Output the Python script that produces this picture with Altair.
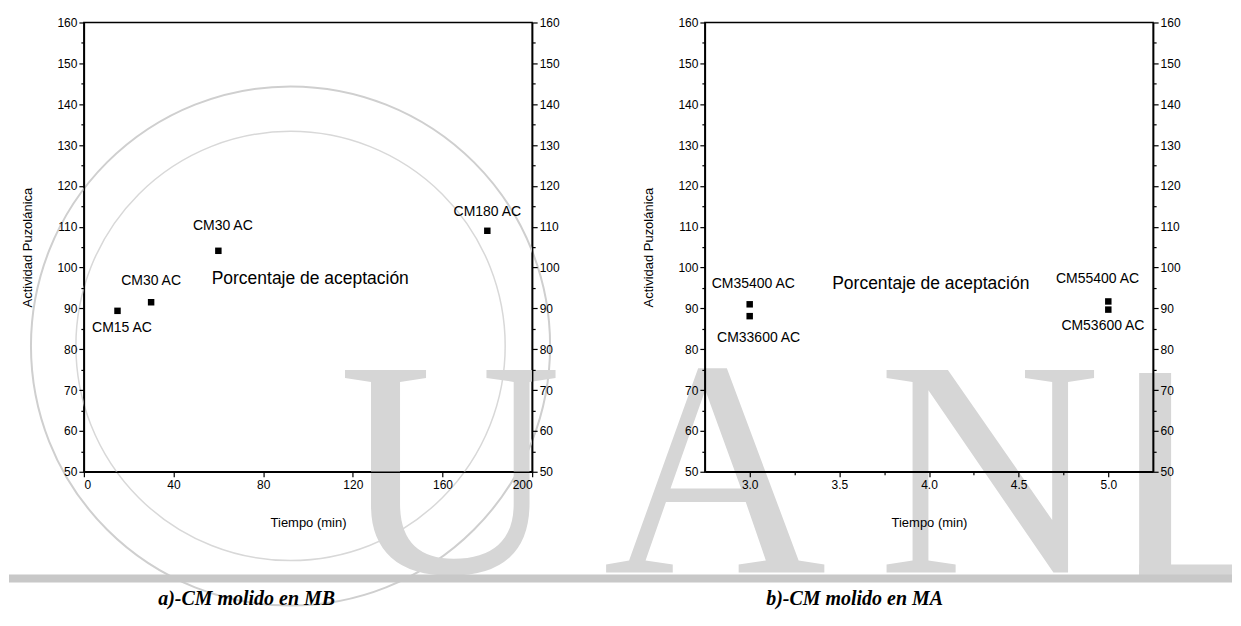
import altair as alt
import pandas as pd

# a)-CM molido en MB
tiempo_a = [15, 30, 60, 180]
actividad_a = [89.4, 91.5, 104.1, 109.0]
etiquetas_a = ["CM15 AC", "CM30 AC", "CM30 AC", "CM180 AC"]
etiq_x_a = [17, 30, 62, 180]
etiq_y_a = [85.3, 96.6, 110.1, 113.7]

# b)-CM molido en MA
tiempo_b = [3.0, 3.0, 5.0, 5.0]
actividad_b = [91.0, 88.1, 91.7, 89.7]
etiquetas_b = ["CM35400 AC", "CM33600 AC", "CM55400 AC", "CM53600 AC"]
etiq_x_b = [3.02, 3.05, 4.94, 4.97]
etiq_y_b = [95.9, 82.8, 97.2, 85.6]

nota = "Porcentaje de aceptación"
nota_x = [101, 4.01]
nota_y = [97.1, 96.0]

pies = ["a)-CM molido en MB", "b)-CM molido en MA"]

y_ticks = list(range(50, 161, 5))
x_ticks_a = [0, 40, 80, 120, 160, 200]
x_ticks_b = [3.0, 3.25, 3.5, 3.75, 4.0, 4.25, 4.5, 4.75, 5.0]

FONT = "Liberation Sans"
major = "datum.value % 10 === 0"


def y_axis(orient, title):
    return alt.Axis(orient=orient, title=title, values=y_ticks, zindex=1,
                    labelExpr=f"{major} ? datum.label : ''",
                    tickSize={"condition": {"test": major, "value": 5}, "value": 3},
                    labelPadding=2, titlePadding=22)


def panel(pts, labs, note, x_scale, x_axis, extra=None):
    ys = alt.Scale(domain=[50, 160], nice=False, zero=False)
    puntos = alt.Chart(pts).mark_square(size=42, color="black", opacity=1).encode(
        x=alt.X("t:Q", scale=x_scale, axis=x_axis),
        y=alt.Y("a:Q", scale=ys, axis=y_axis("left", "Actividad Puzolánica")),
    )
    textos = alt.Chart(labs).mark_text(font=FONT, fontSize=14, color="black").encode(
        x=alt.X("x:Q", scale=x_scale),
        y=alt.Y("y:Q", scale=ys, axis=y_axis("right", "")),
        text="label:N",
    )
    texto_nota = alt.Chart(note).mark_text(font=FONT, fontSize=17.5, color="black").encode(
        x=alt.X("x:Q", scale=x_scale),
        y=alt.Y("y:Q", scale=ys, axis=None),
        text="label:N",
    )
    layers = ([] if extra is None else extra) + [puntos, textos, texto_nota]
    return alt.layer(*layers).resolve_axis(y="independent").properties(width=449, height=450)


pts_a = pd.DataFrame({"t": tiempo_a, "a": actividad_a})
labs_a = pd.DataFrame({"x": etiq_x_a, "y": etiq_y_a, "label": etiquetas_a})
note_a = pd.DataFrame({"x": [nota_x[0]], "y": [nota_y[0]], "label": [nota]})
pts_b = pd.DataFrame({"t": tiempo_b, "a": actividad_b})
labs_b = pd.DataFrame({"x": etiq_x_b, "y": etiq_y_b, "label": etiquetas_b})
note_b = pd.DataFrame({"x": [nota_x[1]], "y": [nota_y[1]], "label": [nota]})

# page decoration of the scanned document (watermark, rule, captions), behind the plots
fondo = pd.DataFrame({"k": [0]})
GRIS = "#d6d6d6"


def letra(ch, x):
    return alt.Chart(fondo).mark_text(font="Liberation Serif", fontSize=310, color=GRIS,
                                      align="center", baseline="alphabetic").encode(
        x=alt.value(x), y=alt.value(551), text=alt.value(ch))


def bloque(x, x2, y, y2, color=GRIS):
    return alt.Chart(fondo).mark_rect(color=color).encode(
        x=alt.value(x), x2=alt.value(x2), y=alt.value(y), y2=alt.value(y2))


def anillo(r, color, w):
    return alt.Chart(fondo).mark_point(shape="circle", filled=False, color=color,
                                       strokeWidth=w, opacity=1).encode(
        x=alt.value(207), y=alt.value(324), size=alt.value((2 * r) ** 2))


def pie(txt, x):
    return alt.Chart(fondo).mark_text(font="Liberation Serif", fontSize=20, fontStyle="italic",
                                      fontWeight="bold", color="black").encode(
        x=alt.value(x), y=alt.value(577), text=alt.value(txt))


decor = [
    anillo(260, "#cfcfcf", 2), anillo(215, "#d8d8d8", 1.5),
    letra("U", 367), letra("A", 632), letra("N", 907),
    bloque(1057, 1089, 351, 557), bloque(1057, 1150, 543, 557),
    bloque(-75, 1150, 553, 561, "#c8c8c8"),
    pie(pies[0], 163), pie(pies[1], 772),
]

xa = alt.Scale(domain=[0, 200], nice=False, zero=False)
xb = alt.Scale(domain=[2.75, 5.25], nice=False, zero=False)
axis_a = alt.Axis(values=x_ticks_a, format="d", title="Tiempo (min)", tickSize=5, zindex=1,
                  labelPadding=3, titlePadding=26)
axis_b = alt.Axis(values=x_ticks_b, format=".1f", title="Tiempo (min)", zindex=1,
                  labelExpr="(datum.value * 2) % 1 === 0 ? datum.label : ''",
                  tickSize={"condition": {"test": "(datum.value * 2) % 1 === 0", "value": 5}, "value": 3},
                  labelPadding=3, titlePadding=26)

left = panel(pts_a, labs_a, note_a, xa, axis_a, extra=decor)
right = panel(pts_b, labs_b, note_b, xb, axis_b)

chart = alt.hconcat(left, right, spacing=173, bounds="flush").properties(
    padding={"left": 0, "top": 7, "right": 0, "bottom": 0},
    background="white",
).configure_axis(
    domainColor="black", domainWidth=1.5, tickColor="black", tickWidth=1.2,
    labelFont=FONT, labelFontSize=12, labelColor="black",
    titleFont=FONT, titleFontSize=13, titleFontWeight="normal", titleColor="black",
    grid=False,
).configure_view(stroke="black", strokeWidth=1.5)

chart.save("out.html", embed_options={"renderer": "svg", "actions": False})
